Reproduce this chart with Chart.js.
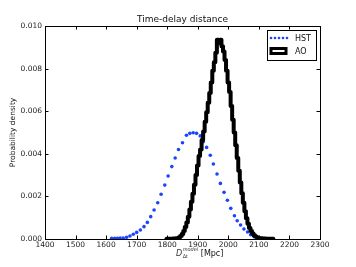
<!DOCTYPE html>
<html>
<head>
<meta charset="utf-8">
<script src="https://cdn.jsdelivr.net/npm/chart.js@4.4.1/dist/chart.umd.min.js"></script>
<style>
html,body{margin:0;padding:0;background:#fff;}
canvas{display:block;}
</style>
</head>
<body>
<canvas id="c" width="356" height="267"></canvas>
<script>
// ---- data ----
const hstX = [1618,1628,1637,1646,1656,1667,1678,1689,1700,1712,1724,1735,1746,1757,1769,1780,1792,1803,1815,1826,1837,1850,1863,1874,1885,1896,1908,1918,1929,1941,1951,1963,1974,1986,1997,2008,2020,2029,2040,2051,2063,2073,2084,2096,2106,2117,2128];
const hstY = [0.00003,0.00003,0.00003,0.00004,0.00005,0.00008,0.00014,0.00022,0.00031,0.00042,0.00058,0.00078,0.00105,0.00136,0.0017,0.0021,0.00253,0.00296,0.0034,0.0038,0.0042,0.00452,0.00487,0.00496,0.00499,0.00496,0.00484,0.00457,0.0043,0.00393,0.00352,0.00305,0.00261,0.00219,0.00182,0.00144,0.00109,0.00086,0.00066,0.00047,0.00033,0.0002,0.00011,0.00005,0.00003,0.00002,0.00002];

const aoX = [1795,1800,1805,1810,1815,1820,1825,1830,1835,1840,1845,1850,1855,1860,1865,1870,1875,1880,1885,1890,1895,1900,1905,1910,1915,1920,1925,1930,1935,1940,1945,1950,1955,1960,1965,1970,1975,1980,1985,1990,1995,2000,2005,2010,2015,2020,2025,2030,2035,2040,2045,2050,2055,2060,2065,2070,2075,2080,2085,2090,2095,2100,2105,2110,2115,2120,2125,2130,2135,2140,2145,2150];
const aoY = [0,0.00001,0.00001,0.00001,0.00001,0.00002,0.00002,0.00003,0.00005,0.00008,0.00014,0.00024,0.00038,0.00056,0.00078,0.00105,0.00138,0.00175,0.00212,0.00255,0.003,0.00345,0.0039,0.0042,0.00465,0.00505,0.0055,0.00595,0.0064,0.00685,0.00735,0.0079,0.0083,0.00875,0.00935,0.0092,0.00935,0.00905,0.0088,0.0084,0.0079,0.00735,0.0069,0.00625,0.0056,0.005,0.0044,0.0038,0.0032,0.00265,0.00215,0.0017,0.0013,0.00098,0.00072,0.00052,0.00037,0.00026,0.00018,0.00012,0.00008,0.00005,0.00004,0.00003,0.00002,0.00002,0.00001,0.00001,0.00001,0.00001,0.00001,0];

const seriesNames = ['HST','AO'];
const titleText = 'Time-delay distance';
const yTitle = 'Probability density';
const xRange = [1400, 2300];
const xStep = 100;
const yRange = [0, 0.01];
const yStep = 0.002;

const FONT = '"DejaVu Sans", sans-serif';
const HST_COLOR = '#1a44ff';

const overlay = {
  id: 'overlay',
  afterDraw(chart) {
    const c = chart.ctx, a = chart.chartArea;
    const xs = chart.scales.x, ys = chart.scales.y;
    c.save();
    // frame
    c.strokeStyle = '#000'; c.lineWidth = 1;
    c.strokeRect(Math.round(a.left) + 0.5, Math.round(a.top) + 0.5, Math.round(a.right - a.left), Math.round(a.bottom - a.top));
    // inward tick marks
    const tl = 3.5;
    c.beginPath();
    xs.ticks.forEach(t => {
      const px = Math.round(xs.getPixelForValue(t.value)) + 0.5;
      c.moveTo(px, a.bottom); c.lineTo(px, a.bottom - tl);
      c.moveTo(px, a.top); c.lineTo(px, a.top + tl);
    });
    ys.ticks.forEach(t => {
      const py = Math.round(ys.getPixelForValue(t.value)) + 0.5;
      c.moveTo(a.left, py); c.lineTo(a.left + tl, py);
      c.moveTo(a.right, py); c.lineTo(a.right - tl, py);
    });
    c.stroke();
    // title
    c.fillStyle = '#111';
    c.font = '9px ' + FONT;
    c.textAlign = 'center'; c.textBaseline = 'middle';
    c.fillText(titleText, (a.left + a.right) / 2, a.top - 6);
    // y title
    c.save();
    c.translate(13, (a.top + a.bottom) / 2);
    c.rotate(-Math.PI / 2);
    c.font = '7.5px ' + FONT;
    c.fillText(yTitle, 0, 0);
    c.restore();
    // x title with sub/superscript
    let x = 176, y = 256;
    c.textAlign = 'left'; c.textBaseline = 'alphabetic';
    c.font = 'italic 8px ' + FONT;
    c.fillStyle = '#333';
    c.fillText('D', x, y);
    const dW = c.measureText('D').width;
    c.font = '5px ' + FONT;
    c.fillText('\u0394t', x + dW + 0.5, y + 2);
    c.font = 'italic 5px ' + FONT;
    c.fillText('model', x + dW + 0.5, y - 5);
    const mW = c.measureText('model').width;
    c.font = '8px ' + FONT;
    c.fillStyle = '#111';
    c.fillText(' [Mpc]', x + dW + 0.5 + mW, y);
    // legend
    const lx = 267, ly = 30, lw = 49, lh = 30;
    c.fillStyle = '#fff';
    c.fillRect(lx, ly, lw, lh);
    c.strokeStyle = '#000'; c.lineWidth = 1;
    c.strokeRect(lx + 0.5, ly + 0.5, lw, lh);
    c.fillStyle = HST_COLOR;
    for (let i = 0; i < 5; i++) {
      c.beginPath(); c.arc(271 + i * 4, 38, 1.3, 0, Math.PI * 2); c.fill();
    }
    c.strokeStyle = '#000'; c.lineWidth = 3;
    c.strokeRect(271, 48.5, 15, 5);
    c.fillStyle = '#111';
    c.font = '8px ' + FONT;
    c.textBaseline = 'middle';
    c.fillText(seriesNames[0], 295, 38.5);
    c.fillText(seriesNames[1], 295, 51.5);
    c.restore();
  }
};

new Chart(document.getElementById('c'), {
  type: 'scatter',
  data: {
    datasets: [
      {
        label: seriesNames[0],
        data: hstX.map((v, i) => ({ x: v, y: hstY[i] })),
        showLine: false,
        pointRadius: 1.8,
        pointBorderWidth: 0,
        pointBackgroundColor: HST_COLOR,
        order: 2
      },
      {
        label: seriesNames[1],
        data: aoX.map((v, i) => ({ x: v, y: aoY[i] })),
        showLine: true,
        stepped: 'middle',
        borderColor: '#000',
        borderWidth: 4,
        borderJoinStyle: 'round',
        pointRadius: 0,
        fill: false,
        order: 1
      }
    ]
  },
  options: {
    responsive: false,
    animation: false,
    devicePixelRatio: 1,
    layout: { padding: { top: 26, right: 36, left: 0, bottom: 0 } },
    plugins: { legend: { display: false }, title: { display: false }, tooltip: { enabled: false } },
    scales: {
      x: {
        type: 'linear', min: xRange[0], max: xRange[1],
        ticks: { stepSize: xStep, autoSkip: false, maxRotation: 0, padding: 2, color: '#222', font: { family: FONT, size: 7.5 }, callback: v => String(v) },
        grid: { display: false, drawTicks: false },
        border: { display: false },
        afterFit(s) { s.height = 28; }
      },
      y: {
        min: yRange[0], max: yRange[1],
        ticks: { stepSize: yStep, padding: 3, color: '#222', font: { family: FONT, size: 7.5 }, callback: v => Number(v).toFixed(3) },
        grid: { display: false, drawTicks: false },
        border: { display: false },
        afterFit(s) { s.width = 45; }
      }
    }
  },
  plugins: [overlay]
});
</script>
</body>
</html>
